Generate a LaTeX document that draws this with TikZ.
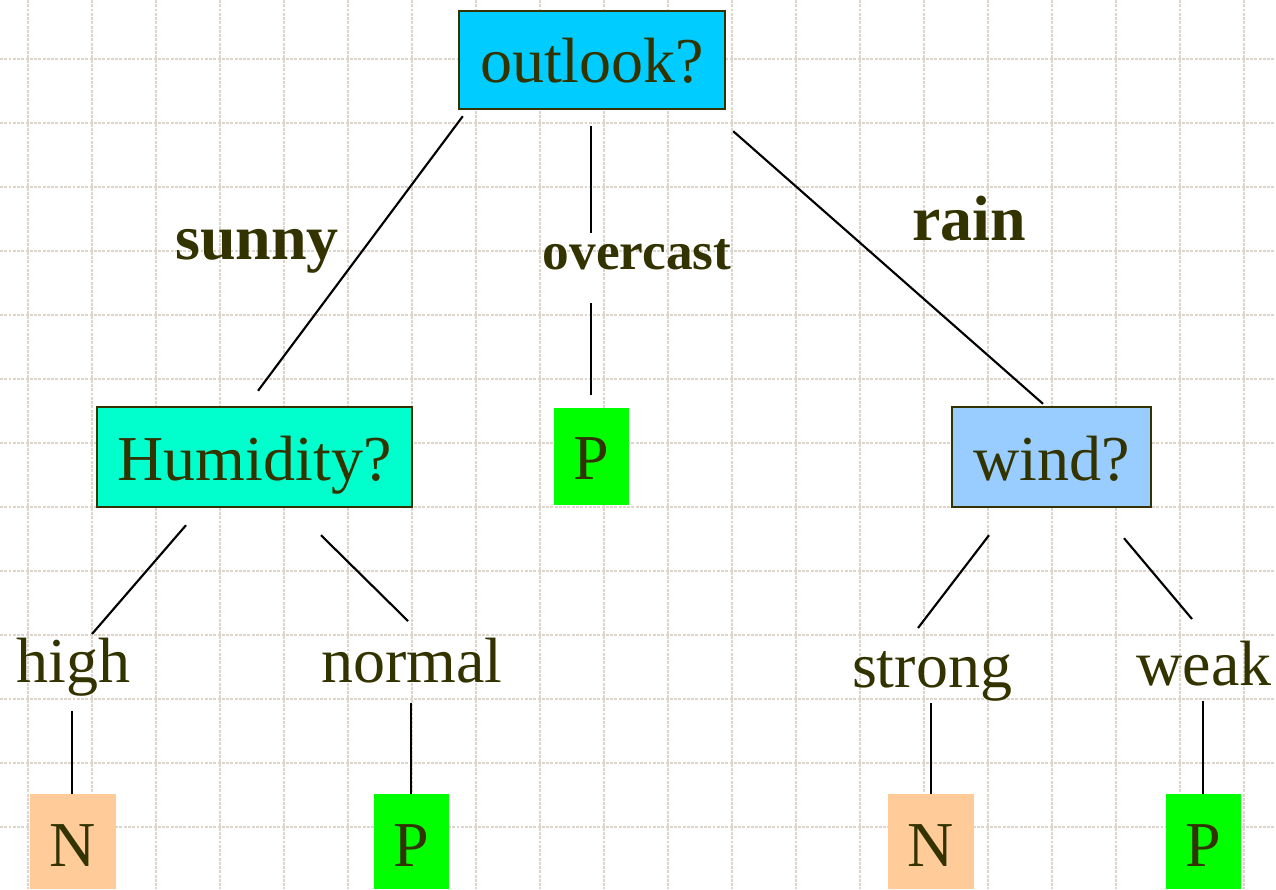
\documentclass[tikz,border=0pt]{standalone}
\usepackage{fontspec}
\setmainfont{Liberation Serif}
\usetikzlibrary{calc}
\definecolor{txt}{HTML}{333300}
\definecolor{gridc}{HTML}{DDD4CC}
\definecolor{outlookc}{HTML}{00CCFF}
\definecolor{humc}{HTML}{00FFCC}
\definecolor{windc}{HTML}{99CCFF}
\definecolor{greenc}{HTML}{00FF00}
\definecolor{orangec}{HTML}{FFCC99}
\tikzset{
  gridline/.style={draw=gridc, line width=0.9pt, dash pattern=on 2.2pt off 1pt},
  qbox/.style={draw=txt, line width=1.8pt, inner sep=0pt, text=txt, anchor=base,
    font=\fontsize{48}{58}\selectfont, text height=54.75pt, text depth=20.25pt},
  leaf/.style={inner sep=0pt, text=txt, anchor=base,
    font=\fontsize{48}{58}\selectfont},
  edgelabel/.style={text=txt, anchor=base, inner sep=0pt, font=\fontsize{48}{58}\selectfont\bfseries},
  vallabel/.style={text=txt, anchor=base, inner sep=0pt, font=\fontsize{48}{58}\selectfont},
  conn/.style={draw=black, line width=1.6pt}
}
\begin{document}
\begin{tikzpicture}[x=0.75pt,y=-0.75pt]
\fill[white] (0,0) rectangle (1276,889);
\useasboundingbox (0,0) rectangle (1276,889);
% grid
\foreach \x in {28,92,...,1276} \draw[gridline] (\x,0) -- (\x,889);
\foreach \y in {59,123,...,889} \draw[gridline] (0,\y) -- (1276,\y);
% decision boxes
\node[qbox, fill=outlookc, minimum width=199.5pt, text height=53.25pt] (outlook) at (592,82) {outlook?};
\node[qbox, fill=humc, minimum width=236.25pt] (Humidity) at (254.5,480) {Humidity?};
\node[qbox, fill=windc, minimum width=149.25pt] (wind) at (1051.5,480) {wind?};
% leaves
\node[leaf, fill=greenc, minimum width=56.25pt, text height=53.25pt, text depth=19.5pt] (Pov) at (591.5,479) {P};
\node[leaf, fill=orangec, minimum width=64.5pt, text height=54pt, text depth=17.25pt] (N1) at (73,866) {N};
\node[leaf, fill=greenc, minimum width=56.25pt, text height=54pt, text depth=17.25pt] (P1) at (411.5,866) {P};
\node[leaf, fill=orangec, minimum width=64.5pt, text height=54pt, text depth=17.25pt] (N2) at (931,866) {N};
\node[leaf, fill=greenc, minimum width=56.25pt, text height=54pt, text depth=17.25pt] (P2) at (1203.5,866) {P};
% edge labels
\node[edgelabel] (sunny) at (257,259) {sunny};
\node[edgelabel, font=\fontsize{40}{48}\selectfont\bfseries] (overcast) at (637,269) {overcast};
\node[edgelabel] (rain) at (969,240) {rain};
% value labels
\node[vallabel] (high) at (73.5,682) {high};
\node[vallabel] (normal) at (412,682) {normal};
\node[vallabel] (strong) at (932,687) {strong};
\node[vallabel] (weak) at (1204,685) {weak};
% overcast gap coordinates
\coordinate (ovtop) at (591,233);
\coordinate (ovbot) at (591,303);
% connectors
\draw[conn] ($(outlook.south west)+(5,6)$) -- ($(Humidity.north)+(3.5,-15)$);
\draw[conn] ($(outlook.south)+(-1,16)$) -- (ovtop);
\draw[conn] (ovbot) -- ($(Pov.north)+(-0.5,-13)$);
\draw[conn] ($(outlook.south east)+(7,21)$) -- ($(wind.north)+(-8.5,-2)$);
\draw[conn] ($(Humidity.south)+(-68.5,17)$) -- ($(high.base)+(18.5,-48)$);
\draw[conn] ($(Humidity.south)+(66.5,27)$) -- ($(normal.base)+(-4,-61)$);
\draw[conn] ($(high.base)+(-1.5,29)$) -- ($(N1.north)+(-1,0)$);
\draw[conn] ($(normal.base)+(-1,21)$) -- ($(P1.north)+(-0.5,0)$);
\draw[conn] ($(wind.south)+(-62.5,27)$) -- ($(strong.base)+(-14,-59)$);
\draw[conn] ($(wind.south)+(72.5,30)$) -- ($(weak.base)+(-12,-66)$);
\draw[conn] ($(strong.base)+(-1,16)$) -- (N2.north);
\draw[conn] ($(weak.base)+(-1,16)$) -- ($(P2.north)+(-0.5,0)$);
\end{tikzpicture}
\end{document}
